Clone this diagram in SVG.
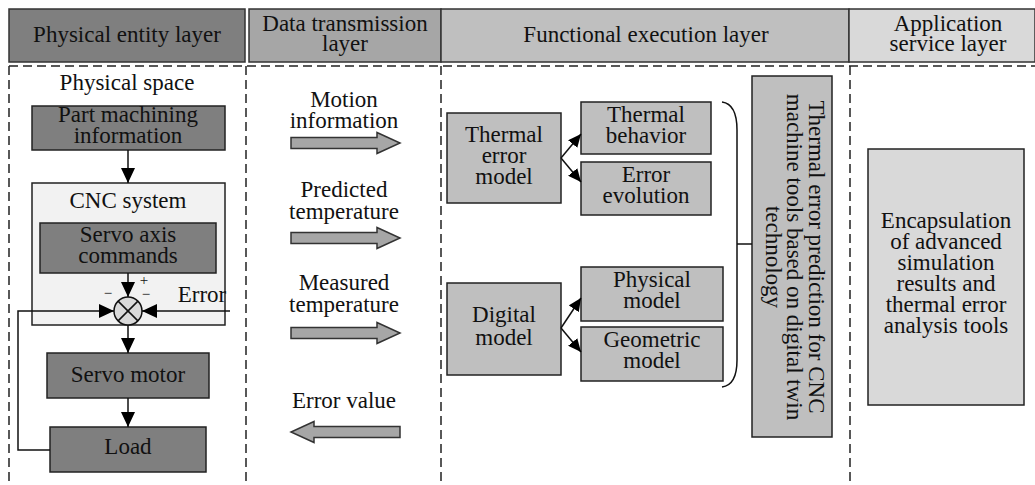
<svg xmlns="http://www.w3.org/2000/svg" width="1035" height="485" viewBox="0 0 1035 485" font-family="'Liberation Serif', 'Times New Roman', 'DejaVu Serif', serif">
<defs>
<style>
text{font-family:'Liberation Serif','Times New Roman','DejaVu Serif',serif;font-size:23px;fill:#111;text-anchor:middle}
.sg{font-size:15px}
.hd{stroke:#333;stroke-width:1.5}
.bx{stroke:#222;stroke-width:1.5}
.dk{fill:#7f7f7f}
.md{fill:#bfbfbf}
.lt{fill:#d9d9d9}
.dash{stroke:#222;stroke-width:1.5;stroke-dasharray:9,5;fill:none}
.ln{stroke:#111;stroke-width:1.5;fill:none}
.ga{fill:#a6a6a6;stroke:#333;stroke-width:1.5}
</style>
<marker id="ah" markerWidth="15" markerHeight="14" refX="15" refY="7" orient="auto" markerUnits="userSpaceOnUse"><path d="M0,0 L15,7 L0,14 z" fill="#000"/></marker>
<marker id="ahs" markerWidth="13" markerHeight="12" refX="13" refY="6" orient="auto" markerUnits="userSpaceOnUse"><path d="M0,0 L13,6 L0,12 z" fill="#000"/></marker>
</defs>
<rect width="1035" height="485" fill="#fff"/>

<g id="headers">
<rect class="hd dk" x="9" y="9" width="236" height="53"/>
<text x="127" y="42">Physical entity layer</text>
<rect class="hd" fill="#a6a6a6" x="249" y="9" width="192" height="53"/>
<text x="345" y="31">Data transmission</text>
<text x="345" y="51">layer</text>
<rect class="hd md" x="441" y="9" width="408" height="53"/>
<text x="646" y="42">Functional execution layer</text>
<rect class="hd lt" x="849" y="9" width="186" height="53"/>
<text x="948" y="31">Application</text>
<text x="948" y="51">service layer</text>
</g>

<g id="frame">
<line class="dash" x1="9" y1="66" x2="1035" y2="66"/>
<line class="dash" x1="9" y1="66" x2="9" y2="482"/>
<line class="dash" x1="246" y1="66" x2="246" y2="482"/>
<line class="dash" x1="441" y1="66" x2="441" y2="482"/>
<line class="dash" x1="850" y1="66" x2="850" y2="482"/>
</g>

<text id="physical-space" x="127" y="90">Physical space</text>

<g id="part-machining">
<rect class="bx dk" x="32" y="106" width="193" height="44"/>
<text x="128" y="122">Part machining</text>
<text x="128" y="143">information</text>
</g>

<g id="cnc-system">
<rect class="bx" fill="#f2f2f2" x="32" y="183" width="193" height="142"/>
<text x="128" y="208">CNC system</text>
</g>

<g id="servo-axis">
<rect class="bx dk" x="40" y="223" width="176" height="50"/>
<text x="128" y="242">Servo axis</text>
<text x="128" y="263">commands</text>
</g>

<g id="sum-junction">
<circle cx="128" cy="311" r="14" fill="#d9d9d9" stroke="#111" stroke-width="1.5"/>
<line class="ln" x1="118.1" y1="301.1" x2="137.9" y2="320.9"/>
<line class="ln" x1="137.9" y1="301.1" x2="118.1" y2="320.9"/>
<text class="sg" x="144" y="285">+</text>
<text class="sg" x="108" y="298">−</text>
<text class="sg" x="146" y="299">−</text>
<text x="202" y="302">Error</text>
</g>

<g id="servo-motor">
<rect class="bx dk" x="47" y="353" width="162" height="45"/>
<text x="128" y="382">Servo motor</text>
</g>

<g id="load">
<rect class="bx dk" x="50" y="427" width="156" height="45"/>
<text x="128" y="454">Load</text>
</g>

<g id="thermal-error-model">
<rect class="bx md" x="447" y="113" width="114" height="90"/>
<text x="504" y="142">Thermal</text>
<text x="504" y="163">error</text>
<text x="504" y="184">model</text>
</g>
<g id="thermal-behavior">
<rect class="bx md" x="581" y="102" width="130" height="52"/>
<text x="646" y="122">Thermal</text>
<text x="646" y="143">behavior</text>
</g>
<g id="error-evolution">
<rect class="bx md" x="581" y="162" width="130" height="53"/>
<text x="646" y="182">Error</text>
<text x="646" y="203">evolution</text>
</g>

<g id="digital-model">
<rect class="bx md" x="447" y="283" width="114" height="92"/>
<text x="504" y="322">Digital</text>
<text x="504" y="345">model</text>
</g>
<g id="physical-model">
<rect class="bx md" x="581" y="267" width="142" height="54"/>
<text x="652" y="287">Physical</text>
<text x="652" y="308">model</text>
</g>
<g id="geometric-model">
<rect class="bx md" x="581" y="327" width="142" height="54"/>
<text x="652" y="347">Geometric</text>
<text x="652" y="368">model</text>
</g>

<g id="prediction">
<rect class="bx md" x="752" y="76" width="80" height="361"/>
<g transform="translate(809,257) rotate(90)">
<text x="0" y="0">Thermal error prediction for CNC</text>
<text x="0" y="22">machine tools based on digital twin</text>
<text x="0" y="43">technology</text>
</g>
</g>

<g id="encapsulation">
<rect class="bx lt" x="868" y="149" width="156" height="256"/>
<text x="946" y="228">Encapsulation</text>
<text x="946" y="249">of advanced</text>
<text x="946" y="270">simulation</text>
<text x="946" y="291">results and</text>
<text x="946" y="312">thermal error</text>
<text x="946" y="333">analysis tools</text>
</g>

<g id="data-labels">
<text x="344" y="107">Motion</text>
<text x="344" y="128">information</text>
<text x="344" y="197">Predicted</text>
<text x="344" y="219">temperature</text>
<text x="344" y="290">Measured</text>
<text x="344" y="312">temperature</text>
<text x="344" y="408">Error value</text>
</g>

<g id="connectors">
<line class="ln" x1="128" y1="150" x2="128" y2="183" marker-end="url(#ah)"/>
<line class="ln" x1="128" y1="273" x2="128" y2="297" marker-end="url(#ah)"/>
<line class="ln" x1="230" y1="311" x2="142" y2="311" marker-end="url(#ah)"/>
<polyline class="ln" points="50,450 18,450 18,311 114,311" marker-end="url(#ah)"/>
<line class="ln" x1="128" y1="325" x2="128" y2="353" marker-end="url(#ah)"/>
<line class="ln" x1="128" y1="398" x2="128" y2="427" marker-end="url(#ah)"/>
<line class="ln" x1="561" y1="158" x2="581" y2="134" marker-end="url(#ahs)"/>
<line class="ln" x1="561" y1="158" x2="581" y2="182" marker-end="url(#ahs)"/>
<line class="ln" x1="561" y1="328" x2="581" y2="298" marker-end="url(#ahs)"/>
<line class="ln" x1="561" y1="328" x2="581" y2="352" marker-end="url(#ahs)"/>
<path class="ln" d="M722,102 Q737,104 737,130 L737,360 Q737,385 722,387"/>
<line class="ln" x1="737" y1="244" x2="752" y2="244"/>
<polygon class="ga" points="291,137.5 377,137.5 377,132.5 400,143 377,153.5 377,148.5 291,148.5"/>
<polygon class="ga" points="291,232.5 377,232.5 377,227.5 400,238 377,248.5 377,243.5 291,243.5"/>
<polygon class="ga" points="291,327.5 377,327.5 377,322.5 400,333 377,343.5 377,338.5 291,338.5"/>
<polygon class="ga" points="400,426.5 314,426.5 314,421.5 291,432 314,442.5 314,437.5 400,437.5"/>
</g>
</svg>
